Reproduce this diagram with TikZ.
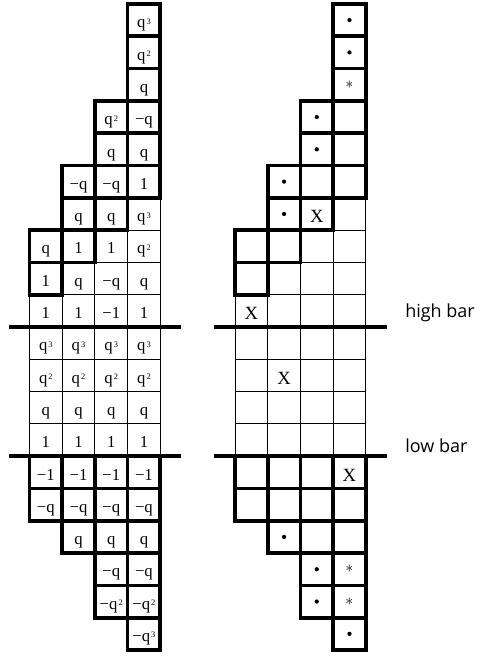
\documentclass[tikz,border=0pt]{standalone}
\usepackage{fontspec}
\setmainfont{Liberation Serif}
\newfontfamily\barfont{Open Sans}
\usepackage{tikz}
\newcommand{\qpow}[1]{q\kern0.8pt\raisebox{0.22em}{\fontsize{6.3}{6.3}\selectfont #1}}

\begin{document}
\begin{tikzpicture}[x=24.525pt,y=24.225pt,line join=miter,
  thincell/.style={line width=0.7pt},
  thickcell/.style={line width=2.8pt},
  bar/.style={line width=3pt},
  lbl/.style={inner sep=0pt,anchor=base,font=\fontsize{12.5}{14}\selectfont},
  xlbl/.style={inner sep=0pt,anchor=base,font=\fontsize{14}{16}\selectfont},
  dotmark/.style={circle,fill,inner sep=0pt,minimum size=3.2pt},
  astmark/.style={inner sep=0pt,font=\fontsize{12}{14}\selectfont},
  barlabel/.style={anchor=base west,inner sep=0pt,font=\barfont\fontsize{13.5}{16}\selectfont}]
\useasboundingbox (-0.902,-0.31) rectangle (13.807,20.123);
% the two tableaux have the same outline
\foreach \sx in {0,6.285} {
\begin{scope}[shift={(\sx,0)}]
\foreach \c/\lo/\hi in {0/4/12,1/3/14,2/1/16,3/0/19}
  \foreach \y in {\lo,...,\hi}
    \draw[thincell] (\c,\y) rectangle ++(1,1);
\foreach \c/\lo/\hi in {0/11/12,1/12/14,2/13/16,3/14/19,0/4/5,1/3/5,2/1/5,3/0/5}
  \foreach \y in {\lo,...,\hi}
    \draw[thickcell] (\c,\y) rectangle ++(1,1);
\draw[bar] (-0.64,10) -- (4.64,10);
\draw[bar] (-0.64,6) -- (4.64,6);
\end{scope}
}
% left tableau: weights
\foreach \y/\c/\t in {19/3/\qpow{3},18/3/\qpow{2},17/3/q,
  16/2/\qpow{2},16/3/−q,15/2/q,15/3/q,
  14/1/−q,14/2/−q,14/3/1,13/1/q,13/2/q,13/3/\qpow{3},
  12/0/q,12/1/1,12/2/1,12/3/\qpow{2},11/0/1,11/1/q,11/2/−q,11/3/q,
  10/0/1,10/1/1,10/2/−1,10/3/1,
  3/1/q,3/2/q,3/3/q,2/2/−q,2/3/−q,1/2/−\qpow{2},1/3/−\qpow{2},0/3/−\qpow{3}}
  \node[lbl] (L-\y-\c) at (\c+0.5,\y+0.26) {\t};
\foreach \c in {0,...,3} {
  \node[lbl] (L-9-\c) at (\c+0.5,9.26) {\qpow{3}};
  \node[lbl] (L-8-\c) at (\c+0.5,8.26) {\qpow{2}};
  \node[lbl] (L-7-\c) at (\c+0.5,7.26) {q};
  \node[lbl] (L-6-\c) at (\c+0.5,6.26) {1};
  \node[lbl] (L-5-\c) at (\c+0.5,5.26) {−1};
  \node[lbl] (L-4-\c) at (\c+0.5,4.26) {−q};
}
% right tableau: marks
\foreach \c/\y in {3/19,3/18,2/16,2/15,1/14,1/13,1/3,2/2,2/1,3/0}
  \node[dotmark] (R-\y-\c) at (6.285+\c+0.5,\y+0.5) {};
\foreach \c/\y in {3/17,3/2,3/1}
  \node[astmark] (R-\y-\c) at (6.285+\c+0.5,\y+0.5) {$\ast$};
\foreach \c/\y in {2/13,0/10,1/8,3/5}
  \node[xlbl] (R-\y-\c) at (6.285+\c+0.5,\y+0.22) {X};
\node[barlabel] (highbar) at (11.483,10.28) {high bar};
\node[barlabel] (lowbar) at (11.483,6.1) {low bar};
\end{tikzpicture}
\end{document}
